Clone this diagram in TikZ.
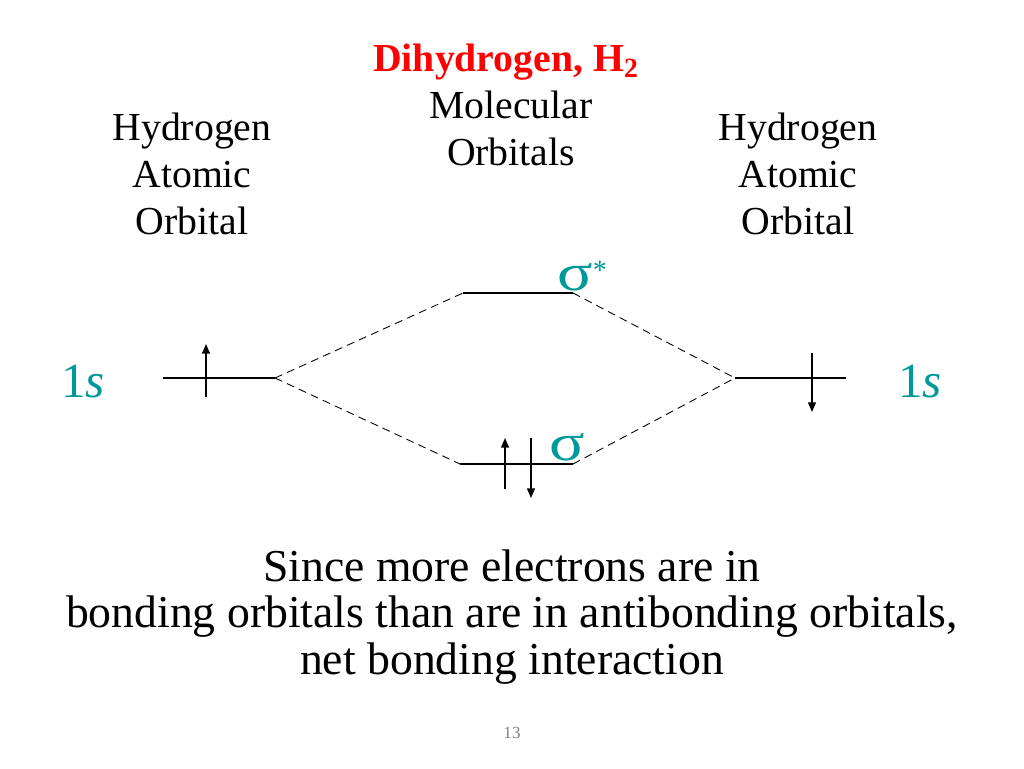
\documentclass[tikz,border=0pt]{standalone}
\usepackage{fontspec}
\setmainfont{Liberation Serif}
\usetikzlibrary{arrows.meta, positioning}
\definecolor{orbteal}{RGB}{0,153,153}
\newcommand{\wsigma}{\scalebox{1.25}[1]{σ}}
\tikzset{
    modiagram/.style={x=0.02cm, y=-0.02cm, >={Triangle[length=5.5pt, width=4.5pt]}},
    level/.style={line width=0.8pt},
    mix/.style={dash pattern=on 4.5pt off 3pt, line width=0.5pt},
    spin/.style={->, line width=0.8pt},
    head/.style={align=center, font=\fontsize{22.6}{26.7}\selectfont},
    orb/.style={text=orbteal, font=\fontsize{28}{32}\selectfont},
    sigma/.style={text=orbteal, inner sep=0pt, anchor=base west, font=\fontsize{30}{34}\selectfont},
}

\begin{document}
\begin{tikzpicture}[modiagram]
    \useasboundingbox (0,0) rectangle (1024,768);
    % headings
    \node[head, text=red, font=\bfseries\fontsize{22.6}{26.7}\selectfont] (title) at (506,62) {Dihydrogen, H\textsubscript{2}};
    \node[head] (mo)  at (511,128) {Molecular\\Orbitals};
    \node[head] (aoL) at (192,174) {Hydrogen\\Atomic\\Orbital};
    \node[head] (aoR) at (798,174) {Hydrogen\\Atomic\\Orbital};

    % energy levels
    \coordinate (hL1) at (163,378);  \coordinate (hL2) at (275,378);
    \coordinate (hR1) at (735,378);  \coordinate (hR2) at (846,378);
    \coordinate (ab1) at (463,293);  \coordinate (ab2) at (573,293);
    \coordinate (bo1) at (460,464);  \coordinate (bo2) at (573,464);

    \draw[level] (hL1) -- (hL2);
    \draw[level] (hR1) -- (hR2);
    \draw[level] (ab1) -- (ab2);
    \draw[level] (bo1) -- (bo2);

    \draw[mix] (hL2) -- (ab1);
    \draw[mix] (hL2) -- (bo1);
    \draw[mix] (ab2) -- (hR1);
    \draw[mix] (bo2) -- (hR1);

    % electrons
    \coordinate (eL1) at (206,397);  \coordinate (eL2) at (206,344);
    \coordinate (eR1) at (812,353);  \coordinate (eR2) at (812,412);
    \coordinate (eB1) at (505,489);  \coordinate (eB2) at (505,438);
    \coordinate (eB3) at (531,438);  \coordinate (eB4) at (531,498);

    \draw[spin] (eL1) -- (eL2);
    \draw[spin] (eR1) -- (eR2);
    \draw[spin] (eB1) -- (eB2);
    \draw[spin] (eB3) -- (eB4);

    % orbital labels
    \node[orb] (sL)   at (83,381)  {1\textit{s}};
    \node[orb] (sR)   at (920,381) {1\textit{s}};
    \node[sigma] (sig)  at (549,460) {\wsigma};
    \node[sigma] (sigs) at (557,290) {\wsigma\raisebox{6pt}{\fontsize{16}{16}\selectfont *}};

    \node[align=center, font=\fontsize{26}{26.4}\selectfont] (note) at (512,617)
        {Since more electrons are in\\bonding orbitals than are in antibonding orbitals,\\net bonding interaction};
    \node[text=gray, font=\fontsize{9.7}{11}\selectfont] (page) at (512,733) {13};
\end{tikzpicture}
\end{document}
